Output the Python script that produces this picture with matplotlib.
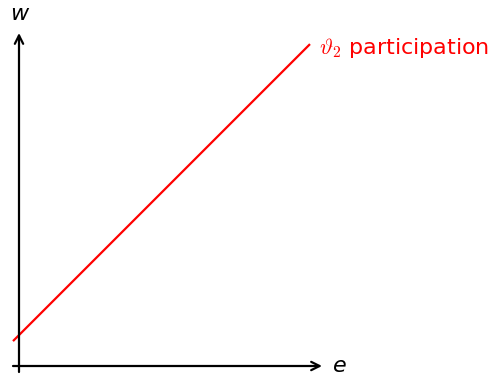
import matplotlib
matplotlib.use("Agg")
import matplotlib.pyplot as plt

# data (axis units)
e_line = [-0.2, 9.7]
w_line = [0.83, 10.73]
x_axis = [-0.2, 10.1]
y_axis = [-0.2, 11.1]
label = r"$\vartheta_2$ participation"

plt.rcParams["mathtext.fontset"] = "cm"
fig = plt.figure(figsize=(4.97, 3.75), dpi=100)
ax = fig.add_axes([0, 0, 1, 1])
ax.set_xlim(-19 / 30, (497 - 19) / 30)
ax.set_ylim(-9 / 30, 366 / 30)
ax.axis("off")

arr = dict(arrowstyle="->", color="black", lw=1.6, mutation_scale=15, shrinkA=0, shrinkB=0)
ax.annotate("", xy=(x_axis[1], 0), xytext=(x_axis[0], 0), arrowprops=arr)
ax.annotate("", xy=(0, y_axis[1]), xytext=(0, y_axis[0]), arrowprops=arr)

ax.plot(e_line, w_line, color="red", lw=1.6, solid_capstyle="butt")
ax.text(e_line[1] + 0.3, w_line[1] - 0.12, label, color="red", fontsize=16, ha="left", va="center")
ax.text(x_axis[1] + 0.35, 0, "e", fontsize=16, style="italic", ha="left", va="center")
ax.text(0, y_axis[1] + 0.3, "w", fontsize=16, style="italic", ha="center", va="bottom")

fig.savefig("out.png", dpi=100)
